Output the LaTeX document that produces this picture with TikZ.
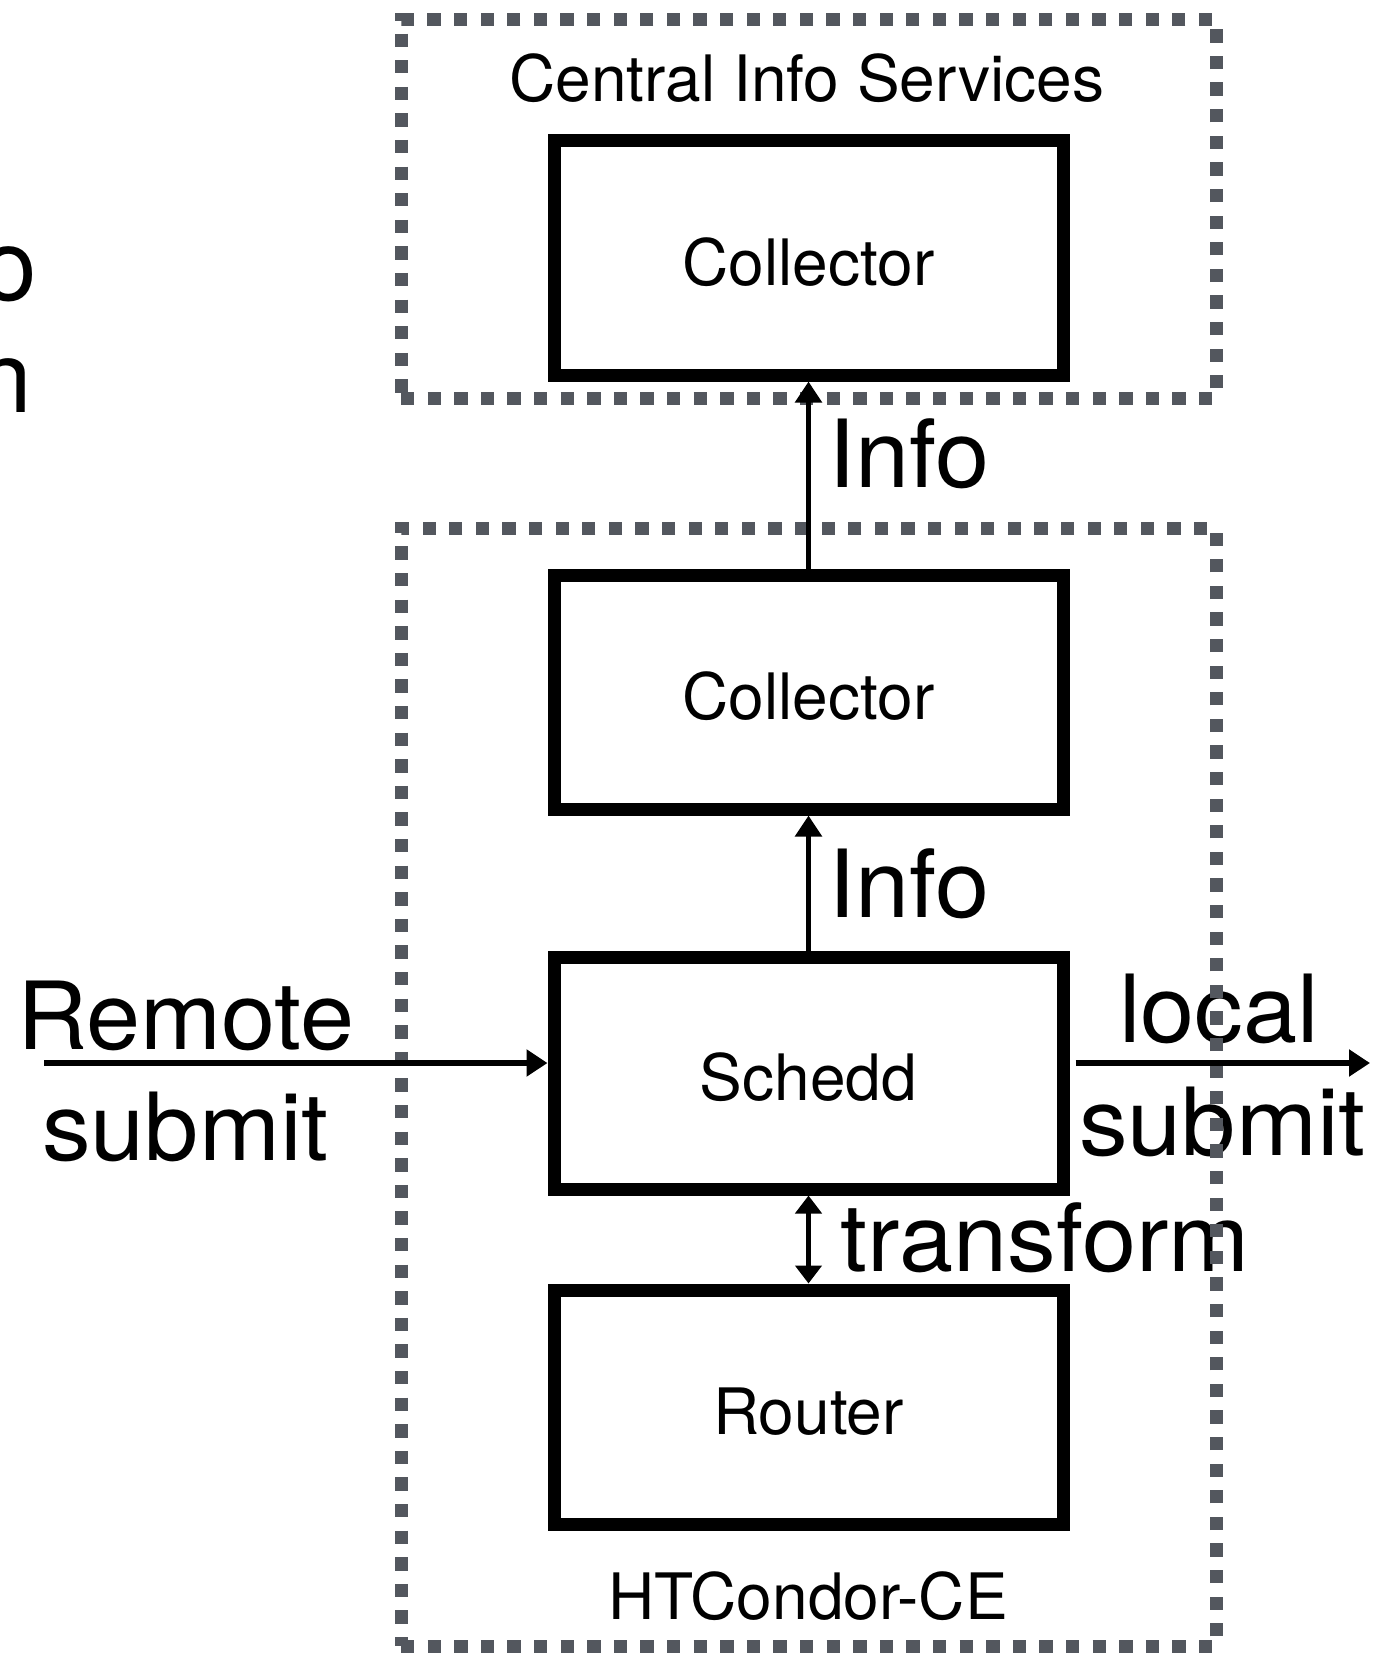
\documentclass[tikz,border=0pt]{standalone}
\usepackage{fontspec}
\setmainfont{TeX Gyre Heros}
\newfontfamily\widelabelfont{TeX Gyre Heros}[FakeStretch=1.035]
\usetikzlibrary{arrows.meta,calc}
\definecolor{framegray}{RGB}{83,87,94}
\begin{document}
\begin{tikzpicture}[x=1pt,y=-1pt,
  service/.style={draw,line width=13pt,rectangle,minimum width=509pt,minimum height=234pt,
    inner sep=0pt,text height=54pt,text depth=0pt,font=\fontsize{64}{70}\selectfont},
  frame/.style={draw=framegray,line width=13pt,dash pattern=on 13.3pt off 13.3pt,
    rectangle,inner sep=0pt,minimum width=815pt},
  biglabel/.style={font=\widelabelfont\fontsize{94}{100}\selectfont,inner sep=0pt,anchor=base west},
  caption/.style={font=\fontsize{64}{70}\selectfont,inner sep=0pt,anchor=base},
  fragment/.style={font=\fontsize{100}{100}\selectfont,inner sep=0pt,anchor=base},
  flow/.style={line width=5.5pt,-{Triangle[length=21pt,width=26pt]}},
  ]
\useasboundingbox (0,0) rectangle (1375,1653);
\clip (0,0) rectangle (1375,1653);

% letters of a text running in from the left edge
\node[fragment] (frag1) at (9,300) {o};
\node[fragment] (frag2) at (4,412) {n};

% captions and connector labels
\node[caption] (cistitle) at (807,102) {Central Info Services};
\node[caption] (cetitle) at (808,1619) {HTCondor-CE};
\node[biglabel] (info1) at (828,487) {Info};
\node[biglabel] (info2) at (828,917) {Info};
\node[biglabel] (remote) at (17,1049) {Remote};
\node[biglabel] (rsub) at (42,1160) {submit};
\node[biglabel] (local) at (1119,1042) {local};
\node[biglabel] (lsub) at (1079,1155) {submit};
\node[biglabel] (transform) at (840,1271) {transform};

% dotted frames
\node[frame,minimum height=378pt] (cis) at (808.5,209) {};
\node[frame,minimum height=1118pt] (ce) at (808.5,1087) {};

% daemons
\node[service] (coll1) at (808.5,258) {Collector};
\node[service] (coll2) at (808.5,692) {Collector};
\node[service,minimum height=232pt] (schedd) at (808.5,1073) {Schedd};
\node[service] (router) at (808.5,1407) {Router};

% connectors
\coordinate (rs) at (44,1063);
\coordinate (le) at (1370,1063);
\draw[flow] (rs) -- (rs -| schedd.west);
\draw[flow] ($(schedd.east |- le)+(6,0)$) -- (le);
\draw[flow] (coll2.north) -- (coll1.south);
\draw[flow] (schedd.north) -- (coll2.south);
\draw[flow,{Triangle[length=18pt,width=26pt]}-{Triangle[length=18pt,width=26pt]}]
  (schedd.south) -- (router.north);
\end{tikzpicture}
\end{document}
